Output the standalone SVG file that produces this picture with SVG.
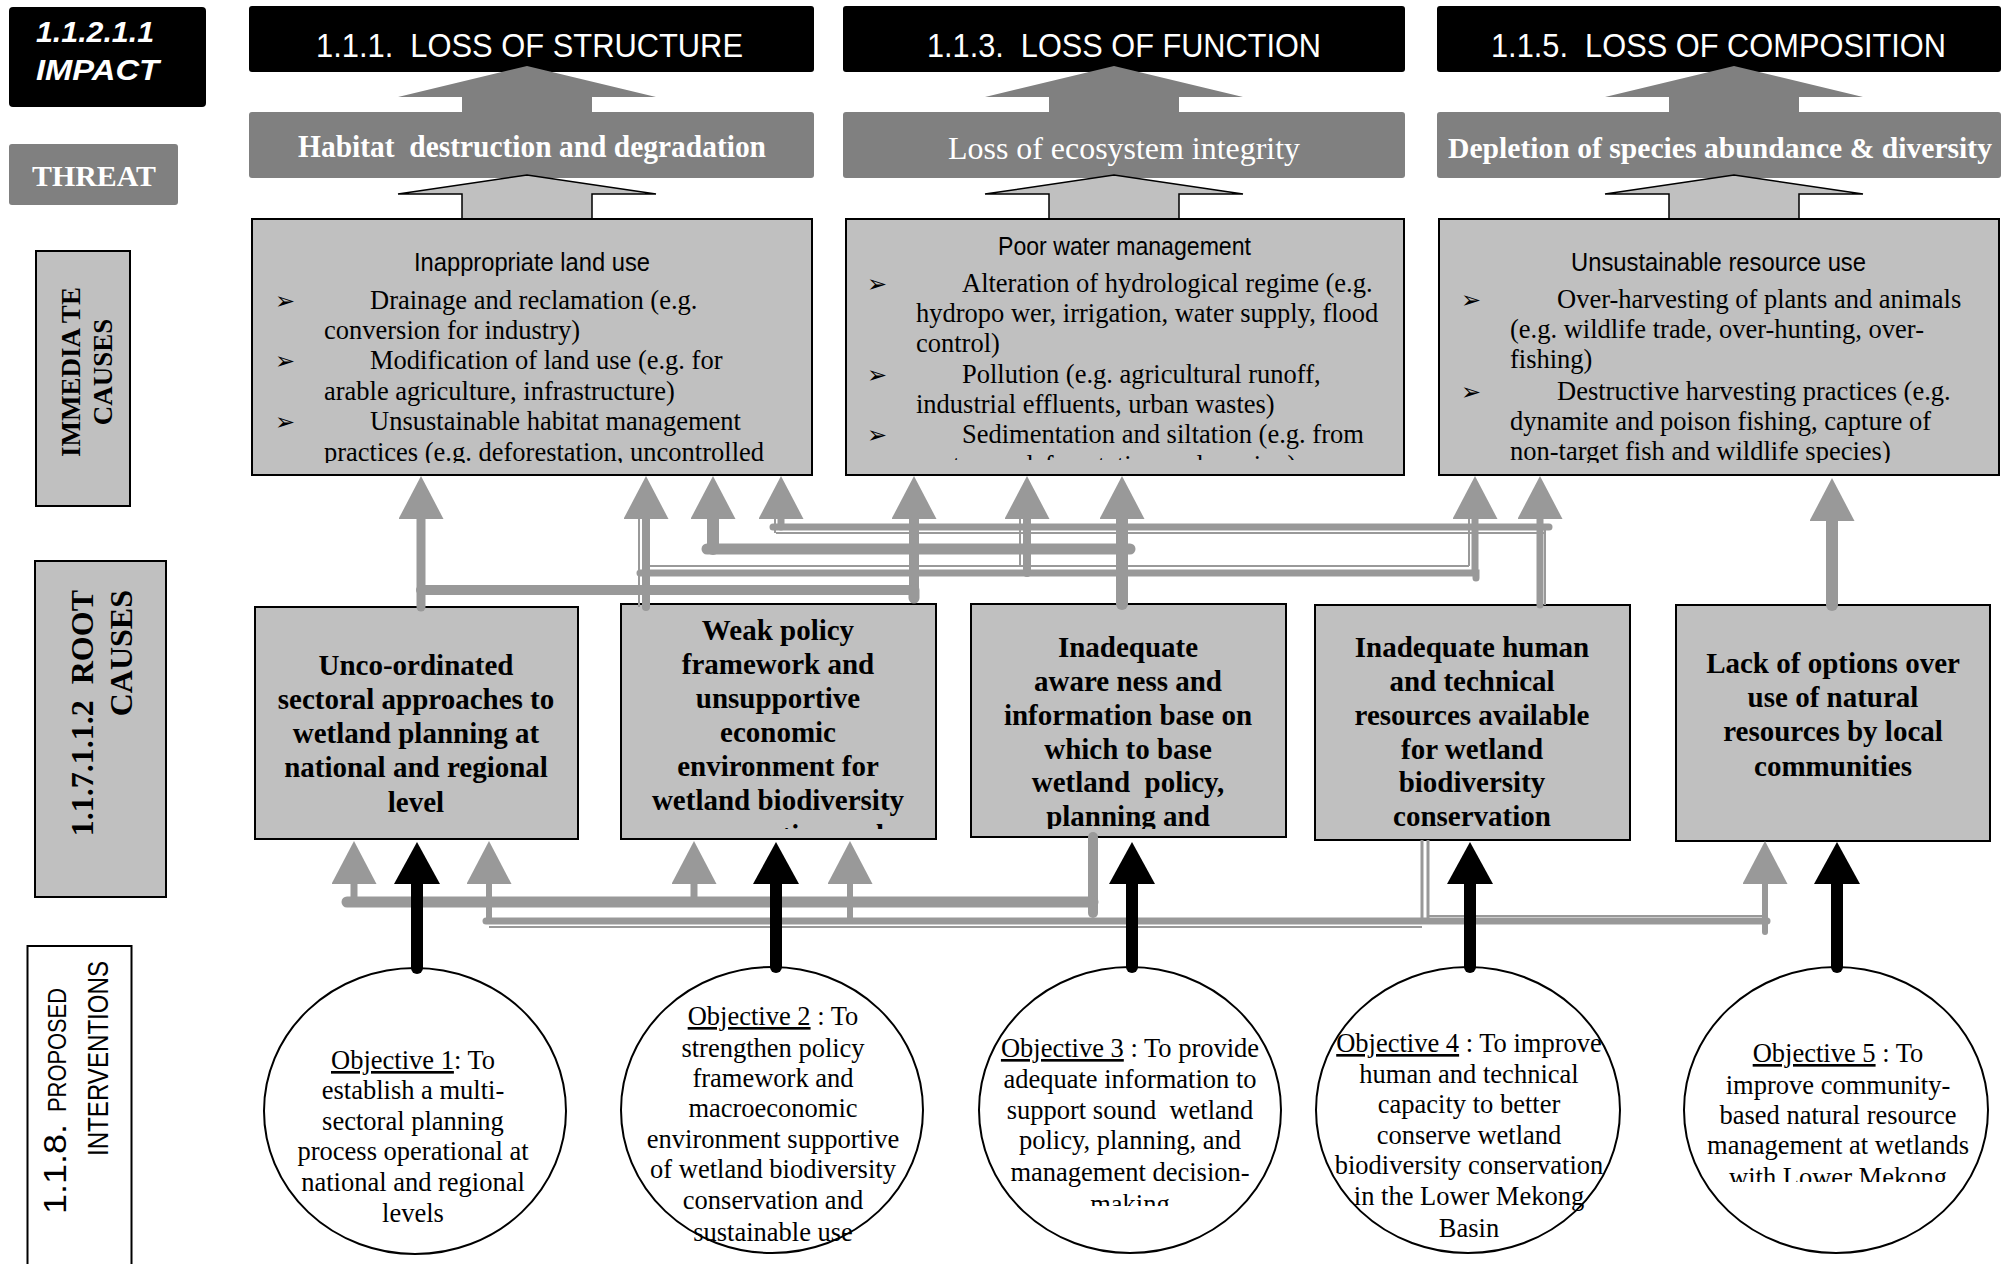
<svg xmlns="http://www.w3.org/2000/svg" width="2007" height="1264" viewBox="0 0 2007 1264">
<style>
.hdr{fill:#000}
.thr{fill:#808080}
.box{fill:#c0c0c0;stroke:#000;stroke-width:2}
.ell{fill:#fff;stroke:#000;stroke-width:2}
.ht{font-family:"Liberation Sans",Arial,sans-serif;font-size:33px;fill:#fff}
.tt{font-family:"Liberation Serif","Times New Roman",serif;font-size:31px;fill:#fff}
.tt29{font-family:"Liberation Serif","Times New Roman",serif;font-size:29px;fill:#fff}
.b{font-weight:bold}
.st{font-family:"Liberation Sans",Arial,sans-serif;font-size:26px;fill:#000}
.bt{font-family:"Liberation Serif","Times New Roman",serif;font-size:26.5px;fill:#000}
.bl{font-family:"DejaVu Sans",sans-serif;font-size:24px;fill:#000}
.rt{font-family:"Liberation Serif","Times New Roman",serif;font-size:29px;font-weight:bold;text-anchor:middle;fill:#000}
.ot{font-family:"Liberation Serif","Times New Roman",serif;font-size:26.5px;text-anchor:middle;fill:#000}
.lbl{font-family:"Liberation Serif","Times New Roman",serif;font-weight:bold;fill:#000}
.up{fill:#808080}
.lo{fill:#c0c0c0;stroke:#000;stroke-width:1.5}
.g{fill:none;stroke:#999;stroke-linecap:round}
.gb{fill:none;stroke:#999;stroke-linecap:butt}
.k{fill:none;stroke:#000;stroke-width:12;stroke-linecap:round}
</style>
<defs>
<marker id="ag" markerUnits="userSpaceOnUse" viewBox="0 0 43 45" markerWidth="43" markerHeight="45" refX="0" refY="22.5" orient="auto"><path d="M0,0 L43,22.5 L0,45 Z" fill="#999"/></marker>
<marker id="ak" markerUnits="userSpaceOnUse" viewBox="0 0 42 46" markerWidth="42" markerHeight="46" refX="0" refY="23" orient="auto"><path d="M0,0 L42,23 L0,46 Z" fill="#000"/></marker>
<clipPath id="cA"><rect x="253" y="220" width="558" height="243"/></clipPath>
<clipPath id="cB"><rect x="847" y="220" width="556" height="240"/></clipPath>
<clipPath id="cC"><rect x="1440" y="220" width="558" height="243"/></clipPath>
<clipPath id="cR2"><rect x="622" y="605" width="313" height="224"/></clipPath>
<clipPath id="cR3"><rect x="972" y="605" width="313" height="224"/></clipPath>
<clipPath id="cE3"><rect x="977" y="960" width="310" height="246"/></clipPath>
<clipPath id="cE5"><rect x="1684" y="960" width="310" height="222"/></clipPath>
</defs>
<rect width="2007" height="1264" fill="#fff"/>

<!-- Left column labels -->
<g id="label-impact">
<rect x="9" y="7" width="197" height="100" rx="4" class="hdr"/>
<text x="36" y="42" font-family="Liberation Sans, Arial, sans-serif" font-size="30" font-weight="bold" font-style="italic" fill="#fff" textLength="118" lengthAdjust="spacingAndGlyphs">1.1.2.1.1</text>
<text x="36" y="80" font-family="Liberation Sans, Arial, sans-serif" font-size="30" font-weight="bold" font-style="italic" fill="#fff" textLength="123" lengthAdjust="spacingAndGlyphs">IMPACT</text>
</g>
<g id="label-threat">
<rect x="9" y="144" width="169" height="61" rx="3" class="thr"/>
<text x="32" y="186" class="tt29 b" textLength="124" lengthAdjust="spacingAndGlyphs">THREAT</text>
</g>
<g id="label-immediate">
<rect x="36" y="251" width="94" height="255" class="box"/>
<text class="lbl" font-size="27" text-anchor="middle" transform="translate(80,372) rotate(-90)">IMMEDIA TE</text>
<text class="lbl" font-size="27" text-anchor="middle" transform="translate(112,372) rotate(-90)">CAUSES</text>
</g>
<g id="label-root">
<rect x="35" y="561" width="131" height="336" class="box"/>
<text class="lbl" font-size="32" text-anchor="end" transform="translate(93,590) rotate(-90)">1.1.7.1.1.2&#160; ROOT</text>
<text class="lbl" font-size="32" text-anchor="end" transform="translate(132,590) rotate(-90)">CAUSES</text>
</g>
<g id="label-interventions">
<rect x="27.5" y="946" width="104" height="330" fill="#fff" stroke="#000" stroke-width="2"/>
<text font-family="Liberation Sans, Arial, sans-serif" font-size="32" fill="#000" transform="translate(66,1214) rotate(-90)" textLength="90" lengthAdjust="spacingAndGlyphs">1.1.8.</text>
<text font-family="Liberation Sans, Arial, sans-serif" font-size="25" fill="#000" transform="translate(66,1112) rotate(-90)" textLength="124" lengthAdjust="spacingAndGlyphs">PROPOSED</text>
<text font-family="Liberation Sans, Arial, sans-serif" font-size="30" fill="#000" transform="translate(108,1156) rotate(-90)" textLength="195" lengthAdjust="spacingAndGlyphs">INTERVENTIONS</text>
</g>

<!-- Impacts -->
<g id="impact-structure">
<rect x="249" y="6" width="565" height="66" rx="3" class="hdr"/>
<text x="316" y="57" class="ht" textLength="427" lengthAdjust="spacingAndGlyphs">1.1.1.&#160; LOSS OF STRUCTURE</text>
</g>
<g id="impact-function">
<rect x="843" y="6" width="562" height="66" rx="3" class="hdr"/>
<text x="927" y="57" class="ht" textLength="394" lengthAdjust="spacingAndGlyphs">1.1.3.&#160; LOSS OF FUNCTION</text>
</g>
<g id="impact-composition">
<rect x="1437" y="6" width="564" height="66" rx="3" class="hdr"/>
<text x="1491" y="57" class="ht" textLength="455" lengthAdjust="spacingAndGlyphs">1.1.5.&#160; LOSS OF COMPOSITION</text>
</g>

<!-- Threats -->
<g id="threat-habitat">
<rect x="249" y="112" width="565" height="66" rx="3" class="thr"/>
<text x="298" y="157" class="tt b" textLength="468" lengthAdjust="spacingAndGlyphs">Habitat&#160; destruction and degradation</text>
</g>
<g id="threat-integrity">
<rect x="843" y="112" width="562" height="66" rx="3" class="thr"/>
<text x="948" y="159" class="tt" textLength="352" lengthAdjust="spacingAndGlyphs">Loss of ecosystem integrity</text>
</g>
<g id="threat-depletion">
<rect x="1437" y="112" width="564" height="66" rx="3" class="thr"/>
<text x="1448" y="158" class="tt29 b" textLength="544" lengthAdjust="spacingAndGlyphs">Depletion of species abundance &amp; diversity</text>
</g>

<!-- Block arrows -->
<g id="block-arrows">
<polygon class="up" points="462,112 462,97 398,97 527,66 656,97 592,97 592,112"/>
<polygon class="up" points="1049,112 1049,97 985,97 1114,66 1243,97 1179,97 1179,112"/>
<polygon class="up" points="1669,112 1669,97 1605,97 1734,66 1863,97 1799,97 1799,112"/>
<polygon class="lo" points="462,219 462,194 398,194 527,175 656,194 592,194 592,219"/>
<polygon class="lo" points="1049,219 1049,194 985,194 1114,175 1243,194 1179,194 1179,219"/>
<polygon class="lo" points="1669,219 1669,194 1605,194 1734,175 1863,194 1799,194 1799,219"/>
</g>

<!-- Immediate causes -->
<g id="cause-land">
<rect x="252" y="219" width="560" height="256" class="box"/>
<text x="414" y="271" class="st" textLength="236" lengthAdjust="spacingAndGlyphs">Inappropriate land use</text>
<g clip-path="url(#cA)">
<text x="275" y="309" class="bl">➢</text>
<text x="370" y="309" class="bt">Drainage and reclamation (e.g.</text>
<text x="324" y="339" class="bt">conversion for industry)</text>
<text x="275" y="369" class="bl">➢</text>
<text x="370" y="369" class="bt">Modification of land use (e.g. for</text>
<text x="324" y="400" class="bt">arable agriculture, infrastructure)</text>
<text x="275" y="430" class="bl">➢</text>
<text x="370" y="430" class="bt">Unsustainable habitat management</text>
<text x="324" y="461" class="bt">practices (e.g. deforestation, uncontrolled</text>
</g>
</g>
<g id="cause-water">
<rect x="846" y="219" width="558" height="256" class="box"/>
<text x="998" y="255" class="st" textLength="253" lengthAdjust="spacingAndGlyphs">Poor water management</text>
<g clip-path="url(#cB)">
<text x="867" y="292" class="bl">➢</text>
<text x="962" y="292" class="bt">Alteration of hydrological regime (e.g.</text>
<text x="916" y="322" class="bt">hydropo wer, irrigation, water supply, flood</text>
<text x="916" y="352" class="bt">control)</text>
<text x="867" y="383" class="bl">➢</text>
<text x="962" y="383" class="bt">Pollution (e.g. agricultural runoff,</text>
<text x="916" y="413" class="bt">industrial effluents, urban wastes)</text>
<text x="867" y="443" class="bl">➢</text>
<text x="962" y="443" class="bt">Sedimentation and siltation (e.g. from</text>
<text x="916" y="474" class="bt">upstream deforestation and erosion)</text>
</g>
</g>
<g id="cause-resource">
<rect x="1439" y="219" width="560" height="256" class="box"/>
<text x="1571" y="271" class="st" textLength="295" lengthAdjust="spacingAndGlyphs">Unsustainable resource use</text>
<g clip-path="url(#cC)">
<text x="1461" y="308" class="bl">➢</text>
<text x="1557" y="308" class="bt">Over-harvesting of plants and animals</text>
<text x="1510" y="338" class="bt">(e.g. wildlife trade, over-hunting, over-</text>
<text x="1510" y="368" class="bt">fishing)</text>
<text x="1461" y="400" class="bl">➢</text>
<text x="1557" y="400" class="bt">Destructive harvesting practices (e.g.</text>
<text x="1510" y="430" class="bt">dynamite and poison fishing, capture of</text>
<text x="1510" y="460" class="bt">non-target fish and wildlife species)</text>
</g>
</g>

<!-- Root causes -->
<g id="root-1">
<rect x="255" y="607" width="323" height="232" class="box"/>
<text class="rt" x="416" y="675">Unco-ordinated</text>
<text class="rt" x="416" y="709">sectoral approaches to</text>
<text class="rt" x="416" y="743">wetland planning at</text>
<text class="rt" x="416" y="777">national and regional</text>
<text class="rt" x="416" y="812">level</text>
</g>
<g id="root-2">
<rect x="621" y="604" width="315" height="235" class="box"/>
<g clip-path="url(#cR2)">
<text class="rt" x="778" y="640">Weak policy</text>
<text class="rt" x="778" y="674">framework and</text>
<text class="rt" x="778" y="708">unsupportive</text>
<text class="rt" x="778" y="742">economic</text>
<text class="rt" x="778" y="776">environment for</text>
<text class="rt" x="778" y="810">wetland biodiversity</text>
<text class="rt" x="778" y="845">conservation and</text>
</g>
</g>
<g id="root-3">
<rect x="971" y="604" width="315" height="233" class="box"/>
<g clip-path="url(#cR3)">
<text class="rt" x="1128" y="657">Inadequate</text>
<text class="rt" x="1128" y="691">aware ness and</text>
<text class="rt" x="1128" y="725">information base on</text>
<text class="rt" x="1128" y="759">which to base</text>
<text class="rt" x="1128" y="792">wetland&#160; policy,</text>
<text class="rt" x="1128" y="826">planning and</text>
</g>
</g>
<g id="root-4">
<rect x="1315" y="605" width="315" height="235" class="box"/>
<text class="rt" x="1472" y="657">Inadequate human</text>
<text class="rt" x="1472" y="691">and technical</text>
<text class="rt" x="1472" y="725">resources available</text>
<text class="rt" x="1472" y="759">for wetland</text>
<text class="rt" x="1472" y="792">biodiversity</text>
<text class="rt" x="1472" y="826">conservation</text>
</g>
<g id="root-5">
<rect x="1676" y="605" width="314" height="236" class="box"/>
<text class="rt" x="1833" y="673">Lack of options over</text>
<text class="rt" x="1833" y="707">use of natural</text>
<text class="rt" x="1833" y="741">resources by local</text>
<text class="rt" x="1833" y="776">communities</text>
</g>

<!-- Objectives -->
<g id="objective-1">
<ellipse cx="415" cy="1111" rx="151" ry="143" class="ell"/>
<text class="ot" x="413" y="1069"><tspan text-decoration="underline">Objective 1</tspan>: To</text>
<text class="ot" x="413" y="1099">establish a multi-</text>
<text class="ot" x="413" y="1130">sectoral planning</text>
<text class="ot" x="413" y="1160">process operational at</text>
<text class="ot" x="413" y="1191">national and regional</text>
<text class="ot" x="413" y="1222">levels</text>
</g>
<g id="objective-2">
<ellipse cx="772" cy="1110" rx="151" ry="143" class="ell"/>
<text class="ot" x="773" y="1025"><tspan text-decoration="underline">Objective 2</tspan> : To</text>
<text class="ot" x="773" y="1057">strengthen policy</text>
<text class="ot" x="773" y="1087">framework and</text>
<text class="ot" x="773" y="1117">macroeconomic</text>
<text class="ot" x="773" y="1148">environment supportive</text>
<text class="ot" x="773" y="1178">of wetland biodiversity</text>
<text class="ot" x="773" y="1209">conservation and</text>
<text class="ot" x="773" y="1241">sustainable use</text>
</g>
<g id="objective-3">
<ellipse cx="1130" cy="1110" rx="151" ry="143" class="ell"/>
<g clip-path="url(#cE3)">
<text class="ot" x="1130" y="1057"><tspan text-decoration="underline">Objective 3</tspan> : To provide</text>
<text class="ot" x="1130" y="1088">adequate information to</text>
<text class="ot" x="1130" y="1119">support sound&#160; wetland</text>
<text class="ot" x="1130" y="1149">policy, planning, and</text>
<text class="ot" x="1130" y="1181">management decision-</text>
<text class="ot" x="1130" y="1213">making</text>
</g>
</g>
<g id="objective-4">
<ellipse cx="1468" cy="1110" rx="152" ry="143" class="ell"/>
<text class="ot" x="1469" y="1052"><tspan text-decoration="underline">Objective 4</tspan> : To improve</text>
<text class="ot" x="1469" y="1083">human and technical</text>
<text class="ot" x="1469" y="1113">capacity to better</text>
<text class="ot" x="1469" y="1144">conserve wetland</text>
<text class="ot" x="1469" y="1174">biodiversity conservation</text>
<text class="ot" x="1469" y="1205">in the Lower Mekong</text>
<text class="ot" x="1469" y="1237">Basin</text>
</g>
<g id="objective-5">
<ellipse cx="1836" cy="1110" rx="152" ry="143" class="ell"/>
<g clip-path="url(#cE5)">
<text class="ot" x="1838" y="1062"><tspan text-decoration="underline">Objective 5</tspan> : To</text>
<text class="ot" x="1838" y="1094">improve community-</text>
<text class="ot" x="1838" y="1124">based natural resource</text>
<text class="ot" x="1838" y="1154">management at wetlands</text>
<text class="ot" x="1838" y="1186">with Lower Mekong</text>
</g>
</g>

<!-- Connectors -->
<g id="connectors">
<!-- root 1 -> land, water -->
<path class="g" stroke-width="9" d="M421,607 V519" marker-end="url(#ag)"/>
<path class="g" stroke-width="10" d="M421,590 H914 V519" marker-end="url(#ag)"/>
<path class="g" stroke-width="11" d="M914,590 V598"/>
<!-- root 2 -> land, water, resource -->
<path class="g" stroke-width="8" d="M646,607 V519" marker-end="url(#ag)"/>
<path class="gb" stroke-width="2" d="M639,607 V519"/>
<path class="g" stroke-width="7" d="M640,573 H1476 V578"/>
<path class="gb" stroke-width="2" d="M646,566 H1469"/>
<path class="g" stroke-width="8" d="M1027,573 V519" marker-end="url(#ag)"/>
<path class="gb" stroke-width="2" d="M1020,566 V519"/>
<path class="g" stroke-width="7" d="M1475,573 V519" marker-end="url(#ag)"/>
<path class="gb" stroke-width="2" d="M1469,566 V519"/>
<!-- root 3 -> land, water -->
<path class="g" stroke-width="12" d="M1122,604 V519" marker-end="url(#ag)"/>
<path class="g" stroke-width="11" d="M707,549 H1130"/>
<path class="g" stroke-width="12" d="M713,549 V519" marker-end="url(#ag)"/>
<!-- root 4 -> land, resource -->
<path class="g" stroke-width="7" d="M1540,605 V519" marker-end="url(#ag)"/>
<path class="gb" stroke-width="2" d="M1545,605 V527"/>
<path class="g" stroke-width="7" d="M773,527 H1549"/>
<path class="gb" stroke-width="2" d="M776,533 H1545"/>
<path class="g" stroke-width="7" d="M781,527 V519" marker-end="url(#ag)"/>
<path class="gb" stroke-width="2" d="M775,533 V519"/>
<!-- root 5 -> resource -->
<path class="g" stroke-width="12" d="M1832,605 V521" marker-end="url(#ag)"/>
<!-- root 3 -> root 1, root 2 -->
<path class="g" stroke-width="10" d="M1093,837 V913"/>
<path class="g" stroke-width="11" d="M347,902 H1093"/>
<path class="g" stroke-width="7" d="M354,902 V884" marker-end="url(#ag)"/>
<path class="g" stroke-width="7" d="M694,902 V884" marker-end="url(#ag)"/>
<!-- root 4 -> root 1, root 2, root 5 -->
<path class="gb" stroke-width="3" d="M1422,840 V923"/>
<path class="gb" stroke-width="3" d="M1428,840 V923"/>
<path class="g" stroke-width="7" d="M486,921 H1767"/>
<path class="gb" stroke-width="2" d="M489,927 H1422"/>
<path class="gb" stroke-width="2" d="M1428,916 H1764"/>
<path class="g" stroke-width="6" d="M489,921 V884" marker-end="url(#ag)"/>
<path class="g" stroke-width="6" d="M850,921 V884" marker-end="url(#ag)"/>
<path class="g" stroke-width="6" d="M1765,932 V884" marker-end="url(#ag)"/>
<!-- objectives -> root causes -->
<path class="k" d="M417,968 V884" marker-end="url(#ak)"/>
<path class="k" d="M776,967 V884" marker-end="url(#ak)"/>
<path class="k" d="M1132,967 V884" marker-end="url(#ak)"/>
<path class="k" d="M1470,967 V884" marker-end="url(#ak)"/>
<path class="k" d="M1837,967 V884" marker-end="url(#ak)"/>
</g>
</svg>
